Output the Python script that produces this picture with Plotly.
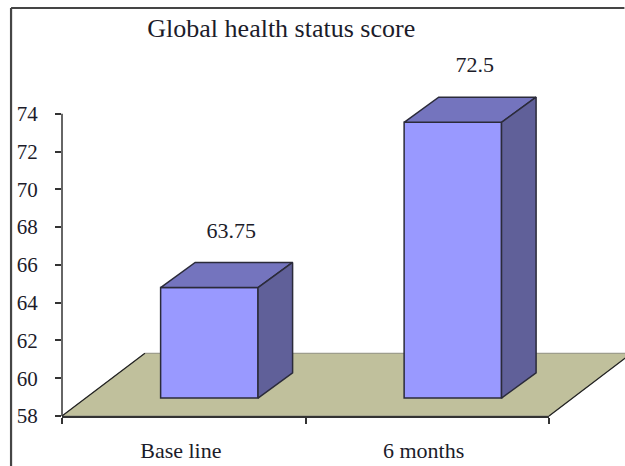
import plotly.graph_objects as go

# Global health status score at the two visits
categories = ["Base line", "6 months"]
scores = [63.75, 72.5]
score_labels = ["63.75", "72.5"]
y_ticks = [58, 60, 62, 64, 66, 68, 70, 72, 74]

# Page geometry of the axes, in pixels
W, H = 625, 466
AX_L, AX_R, AX_T, AX_B = 62, 549.5, 113.7, 415.7
Y_PER_PX = (y_ticks[-1] - y_ticks[0]) / (AX_B - AX_T)

# Pseudo-3D offsets, in axis units
BAR_WIDTH = 0.4
SHIFT_X = 0.105      # bars stand further back than the front edge of the floor
BASE_LIFT = 0.95
TOP_LIFT = 1.05
DEPTH_X = 0.142
DEPTH_Y = 1.33
LABEL_DX = 0.195
LABEL_DY = 3.98

FRONT = "#9999FF"
TOP = "#7474BE"
SIDE = "#606099"
FLOOR = "#C0C09C"
INK = "#1c1c2a"
EDGE = "#2b2b3a"
AXIS = "#333333"
FONT = "Liberation Serif"


def px(x):
    return (x - AX_L) / (AX_R - AX_L)


def py(y):
    return (AX_B - y) / AX_B


def page_path(points):
    return "M" + " L".join(f"{px(x):.4f},{py(y):.4f}" for x, y in points) + " Z"


def page_line(p0, p1, color, width):
    return dict(type="line", xref="paper", yref="paper", layer="below",
                x0=px(p0[0]), y0=py(p0[1]), x1=px(p1[0]), y1=py(p1[1]),
                line=dict(color=color, width=width))


fig = go.Figure()

# Front faces of the columns
centres = [i + SHIFT_X for i in range(len(categories))]
floor_level = y_ticks[0] + BASE_LIFT
fig.add_trace(go.Bar(
    x=centres,
    y=[v + TOP_LIFT - floor_level for v in scores],
    base=floor_level,
    width=BAR_WIDTH,
    marker=dict(color=FRONT, line=dict(color=EDGE, width=1.5)),
    hoverinfo="skip",
))

# Top and side faces follow each column's value
for c, v in zip(centres, scores):
    left, right = c - BAR_WIDTH / 2, c + BAR_WIDTH / 2
    top = v + TOP_LIFT
    fig.add_trace(go.Scatter(
        x=[left, right, right + DEPTH_X, left + DEPTH_X, left],
        y=[top, top, top + DEPTH_Y, top + DEPTH_Y, top],
        mode="lines", fill="toself", fillcolor=TOP,
        line=dict(color=EDGE, width=1.5), hoverinfo="skip",
    ))
    fig.add_trace(go.Scatter(
        x=[right, right + DEPTH_X, right + DEPTH_X, right, right],
        y=[top, top + DEPTH_Y, floor_level + DEPTH_Y, floor_level, top],
        mode="lines", fill="toself", fillcolor=SIDE,
        line=dict(color=EDGE, width=1.5), hoverinfo="skip",
    ))

# Value labels floating above the columns
fig.add_trace(go.Scatter(
    x=[i + LABEL_DX for i in range(len(categories))],
    y=[v + LABEL_DY for v in scores],
    mode="text", text=score_labels,
    textfont=dict(family=FONT, size=22, color=INK),
    hoverinfo="skip",
))

shapes = [
    # Floor plane, running off the right of the page
    dict(type="path", xref="paper", yref="paper", layer="below",
         path=page_path([(AX_L, AX_B), (145, 353), (632, 353), (AX_R, AX_B)]),
         fillcolor=FLOOR, line=dict(color="#8f8f80", width=1)),
    page_line((AX_L, AX_B), (145, 353), "#222222", 1.2),
    page_line((AX_R, AX_B), (632, 353), "#222222", 1.2),
    # Value axis line stops at the top tick
    page_line((AX_L, AX_B), (AX_L, AX_T), AXIS, 1.5),
    # Chart frame: left and top edges only
    page_line((11, 8), (11, H), "#454545", 2.2),
    page_line((11, 8), (W, 8), "#454545", 2.2),
]

fig.update_layout(
    width=W, height=H, autosize=False,
    margin=dict(l=AX_L, r=W - AX_R, t=0, b=H - AX_B, pad=0, autoexpand=False),
    paper_bgcolor="white", plot_bgcolor="rgba(0,0,0,0)",
    showlegend=False, shapes=shapes,
    font=dict(family=FONT, color=INK),
    title=dict(text="Global health status score", xref="paper", yref="container",
               x=(281.5 - AX_L) / (AX_R - AX_L), xanchor="center",
               y=1 - 28 / H, yanchor="middle",
               font=dict(family=FONT, size=26, color=INK)),
    xaxis=dict(range=[-0.5, 1.5], tickmode="array", tickvals=[-0.012, 0.985], ticktext=categories,
               ticks="", showgrid=False, zeroline=False, showline=True,
               linecolor=AXIS, linewidth=1.5,
               tickfont=dict(size=22), ticklabelstandoff=14,
               minor=dict(tickmode="array", tickvals=[-0.5, 0.5, 1.5], ticks="outside",
                          ticklen=6, tickwidth=1.5, tickcolor=AXIS, showgrid=False)),
    yaxis=dict(range=[y_ticks[0], y_ticks[0] + AX_B * Y_PER_PX], tickmode="array", tickvals=y_ticks,
               ticks="outside", ticklen=6, tickwidth=1.5, tickcolor=AXIS,
               showgrid=False, zeroline=False, showline=False,
               tickfont=dict(size=21), ticklabelstandoff=13),
)

fig.write_html("out.html", config=dict(displayModeBar=False))
